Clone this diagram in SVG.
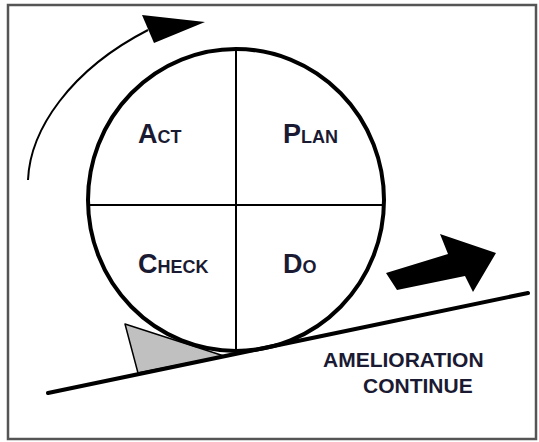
<svg xmlns="http://www.w3.org/2000/svg" width="539" height="442" viewBox="0 0 539 442">
<style>
.lbl{font-family:"Liberation Sans",Arial,sans-serif;font-weight:bold;fill:#1a1a33}
.big{font-size:27px}
.sm{font-size:18px}
.txt{font-family:"Liberation Sans",Arial,sans-serif;font-weight:bold;fill:#1a1a33;font-size:21px}
</style>
<rect x="0" y="0" width="539" height="442" fill="#ffffff"/>
<rect id="frame" x="8" y="5" width="528" height="434" fill="none" stroke="#555" stroke-width="2.5"/>
<g id="connectors">
  <path d="M28,180 C30,130 70,70 148,30" fill="none" stroke="#000" stroke-width="2"/>
  <polygon points="142,15 205,22 154,43" fill="#000"/>
  <polygon points="386,273 448,254 440,234 496,253 473,292 465,276 397,290" fill="#000"/>
</g>
<g id="wedge">
  <polygon points="125,324 138,373 224,356" fill="#c0c0c0" stroke="#000" stroke-width="1.5" stroke-linejoin="round"/>
</g>
<g id="ground">
  <line x1="48" y1="393" x2="528" y2="293" stroke="#000" stroke-width="4" stroke-linecap="round"/>
</g>
<g id="wheel">
  <ellipse cx="236" cy="200" rx="148" ry="151" fill="none" stroke="#000" stroke-width="4"/>
  <line x1="236" y1="49" x2="236" y2="351" stroke="#000" stroke-width="2"/>
  <line x1="88" y1="205" x2="384" y2="205" stroke="#000" stroke-width="2"/>
</g>
<g id="act"><text class="lbl" x="138" y="143"><tspan class="big">A</tspan><tspan class="sm">CT</tspan></text></g>
<g id="plan"><text class="lbl" x="283" y="143"><tspan class="big">P</tspan><tspan class="sm">LAN</tspan></text></g>
<g id="check"><text class="lbl" x="138" y="273"><tspan class="big">C</tspan><tspan class="sm">HECK</tspan></text></g>
<g id="do"><text class="lbl" x="283" y="273"><tspan class="big">D</tspan><tspan class="sm">O</tspan></text></g>
<g id="label">
  <text class="txt" x="323" y="367">AMELIORATION</text>
  <text class="txt" x="363" y="393">CONTINUE</text>
</g>
</svg>
